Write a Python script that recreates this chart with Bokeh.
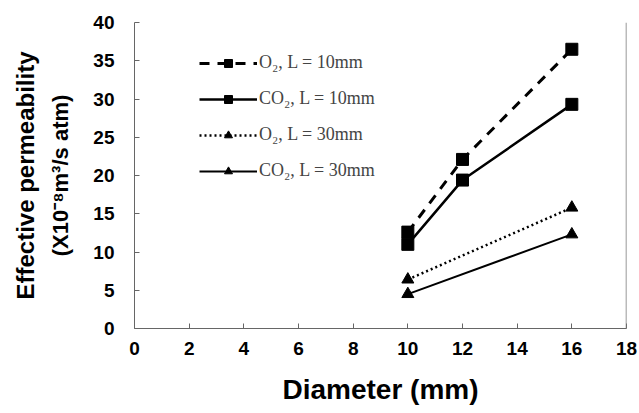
import math
from bokeh.plotting import figure
from bokeh.models import (ColumnDataSource, FixedTicker, Legend, LegendItem, Span, Title, Range1d)
from bokeh.embed import file_html
from bokeh.resources import INLINE

# ---- data ----
d_o2_10 = [10, 12, 16]
v_o2_10 = [12.6, 22.1, 36.5]
d_co2_10 = [10, 12, 16]
v_co2_10 = [11.0, 19.4, 29.3]
d_o2_30 = [10, 16]
v_o2_30 = [6.4, 15.8]
d_co2_30 = [10, 16]
v_co2_30 = [4.5, 12.3]

labels = ["O\u2082, L = 10mm", "CO\u2082, L = 10mm", "O\u2082, L = 30mm", "CO\u2082, L = 30mm"]
x_ticks = [0, 2, 4, 6, 8, 10, 12, 14, 16, 18]
y_ticks = [0, 5, 10, 15, 20, 25, 30, 35, 40]

p = figure(width=639, height=413, output_backend="svg", toolbar_location=None,
           x_range=Range1d(0, 18), y_range=Range1d(0, 40),
           min_border_left=134, min_border_right=13, min_border_top=22, min_border_bottom=85)
p.outline_line_color = None
p.grid.visible = False
p.background_fill_color = "white"
p.border_fill_color = "white"

series = [
    (d_o2_10, v_o2_10, "square", dict(line_width=3, line_dash="10 8")),
    (d_co2_10, v_co2_10, "square", dict(line_width=2.5)),
    (d_o2_30, v_o2_30, "triangle", dict(line_width=2.5, line_dash="2 3")),
    (d_co2_30, v_co2_30, "triangle", dict(line_width=2)),
]
items = []
for (xs, ys, mk, st), lab in zip(series, labels):
    src = ColumnDataSource(dict(x=xs, y=ys))
    lr = p.line("x", "y", source=src, line_color="black", **st)
    sr = p.scatter("x", "y", source=src, marker=mk, size=12, fill_color="black", line_color="black")
    items.append(LegendItem(label=lab, renderers=[lr, sr]))

legend = Legend(items=items, location=(65, 147), background_fill_alpha=0, border_line_color=None,
                glyph_width=58, glyph_height=20, label_height=20, spacing=15, label_standoff=2,
                padding=0, margin=0,
                label_text_font="Liberation Serif", label_text_font_size="18px")
p.add_layout(legend, "center")

for ax in (p.xaxis[0], p.yaxis[0]):
    ax.axis_line_color = "#666666"
    ax.axis_line_width = 1
    ax.major_tick_line_color = "#666666"
    ax.major_tick_in = 5
    ax.major_tick_out = 0
    ax.minor_tick_line_color = None
    ax.major_label_text_font = "Liberation Sans"
    ax.major_label_text_font_style = "bold"
    ax.major_label_text_font_size = "19px"
    ax.major_label_text_color = "black"
    ax.axis_label_text_font = "Liberation Sans"
    ax.axis_label_text_font_style = "bold"
    ax.axis_label_text_color = "black"

p.xaxis.axis_label_text_font_size = "28px"
p.yaxis.axis_label_text_font_size = "22px"
p.xaxis.ticker = FixedTicker(ticks=x_ticks)
p.yaxis.ticker = FixedTicker(ticks=y_ticks)
p.xaxis.major_label_standoff = 13
p.yaxis.major_label_standoff = 20
p.xaxis.axis_label = "Diameter (mm)"
p.xaxis.axis_label_standoff = 16
p.yaxis.axis_label = "(X10\u207b\u2078m\u00b3/s atm)"
p.yaxis.axis_label_standoff = 17

t2 = Title(text="Effective permeability", align="center", text_font="Liberation Sans",
           text_font_style="bold", text_font_size="24px", text_color="black", standoff=14)
p.add_layout(t2, "left")

p.add_layout(Span(location=18, dimension="height", line_color="#777777", line_width=1.5))

open("out.html", "w").write(file_html(p, INLINE))
